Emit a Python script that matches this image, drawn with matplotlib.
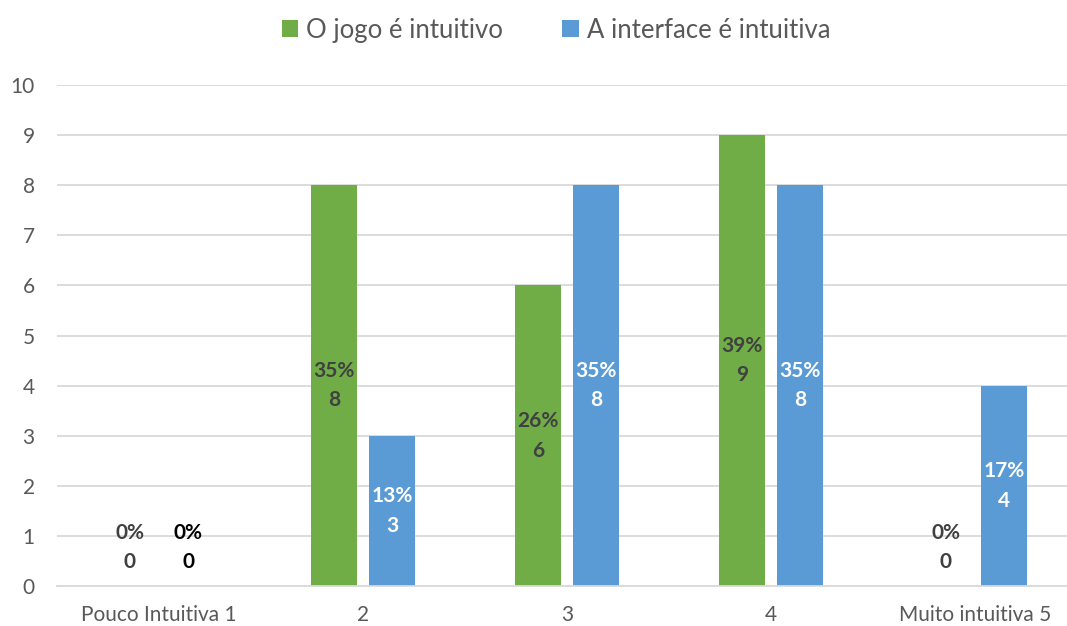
import matplotlib
matplotlib.use('Agg')
import matplotlib.pyplot as plt
import numpy as np

# data
categories = ['Pouco Intuitiva 1', '2', '3', '4', 'Muito intuitiva 5']
jogo = [0, 8, 6, 9, 0]
interface = [0, 3, 8, 8, 4]
jogo_pct = ['0%', '35%', '26%', '39%', '0%']
interface_pct = ['0%', '13%', '35%', '35%', '17%']

green = '#70AD47'
blue = '#5B9BD5'
grid_col = '#D9D9D9'
text_col = '#595959'

plt.rcParams['font.family'] = ['Lato', 'DejaVu Sans']

fig = plt.figure(figsize=(10.67, 6.26), dpi=100)
ax = fig.add_axes([0.0534, 0.0639, 0.9466, 0.8003])

x = np.arange(len(categories))
w = 0.2235
off = 0.143

ax.bar(x - off, jogo, w, color=green, label='O jogo é intuitivo', zorder=2)
ax.bar(x + off, interface, w, color=blue, label='A interface é intuitiva', zorder=2)

# data labels: centred in the bar, or sitting on the baseline for zeros
lab_kw = dict(ha='center', fontsize=15, fontweight='bold', linespacing=1.6, zorder=3)
for xi, v, p in zip(x - off, jogo, jogo_pct):
    if v == 0:
        ax.annotate(f'{p}\n{v}', (xi, 0), xytext=(0, 10), textcoords='offset points',
                    va='bottom', color='#404040', **lab_kw)
    else:
        ax.text(xi, v / 2, f'{p}\n{v}', va='center', color='#404040', **lab_kw)

for xi, v, p in zip(x + off, interface, interface_pct):
    if v == 0:
        ax.annotate(f'{p}\n{v}', (xi, 0), xytext=(0, 10), textcoords='offset points',
                    va='bottom', color='black', **lab_kw)
    else:
        ax.text(xi, v / 2, f'{p}\n{v}', va='center', color='white', **lab_kw)

ax.set_xlim(-0.5, -0.5 + (1067 - 57) / 204)
ax.set_ylim(0, 10)
ax.set_yticks(range(0, 11))
ax.set_xticks(x)
ax.set_xticklabels(categories)
ax.yaxis.grid(True, color=grid_col, linewidth=1.3, zorder=0)
ax.set_axisbelow(True)
for s in ['top', 'right', 'left']:
    ax.spines[s].set_visible(False)
ax.spines['bottom'].set_color(grid_col)
ax.spines['bottom'].set_linewidth(1.3)
ax.tick_params(axis='y', length=0, pad=16, labelsize=15, labelcolor=text_col)
ax.tick_params(axis='x', length=0, pad=14, labelsize=15, labelcolor=text_col)

fig.legend(loc='center', bbox_to_anchor=(0.521, 0.952), ncol=2, frameon=False,
           fontsize=18.5, labelcolor=text_col, handlelength=0.65, handleheight=0.65,
           handletextpad=0.3, columnspacing=2.3)

plt.savefig('out.png', dpi=100)
plt.close()
